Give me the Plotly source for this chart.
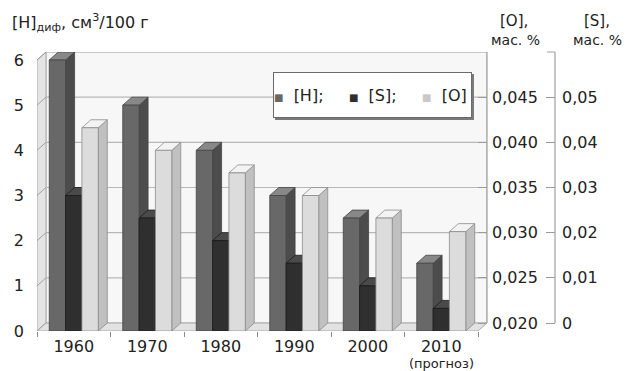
import plotly.graph_objects as go

# ---- data -------------------------------------------------------------
years = ["1960", "1970", "1980", "1990", "2000", "2010"]
forecast_note = "(прогноз)"
h_diff = [6.0, 5.0, 4.0, 3.0, 2.5, 1.5]                      # [H]диф, см3/100 г
s_mass = [0.030, 0.025, 0.020, 0.015, 0.010, 0.005]          # [S], мас. %
o_mass = [0.0425, 0.040, 0.0375, 0.035, 0.0325, 0.031]       # [O], мас. %

h_ticks = [0, 1, 2, 3, 4, 5, 6]
o_ticks = [0.020, 0.025, 0.030, 0.035, 0.040, 0.045]
o_tick_text = ["0,020", "0,025", "0,030", "0,035", "0,040", "0,045"]
s_ticks = [0.0, 0.01, 0.02, 0.03, 0.04, 0.05]
s_tick_text = ["0", "0,01", "0,02", "0,03", "0,04", "0,05"]

# O and S scales expressed on the [H] scale of the back wall
O_BASE, O_STEP = 0.020, 0.005
S_STEP = 0.01

# ---- page geometry (pixels) ---------------------------------------------
W, H = 631, 371
ML, MR, MT, MB = 37, 31, 52, 40
PAPER_W = W - ML - MR
PAPER_H = H - MT - MB
BOX_W = 450                     # front face + depth of the 3D box
DEPTH_X, DEPTH_Y = 9, 8         # oblique projection offset of the box depth
S_AXIS_PX = 555

x_lo, x_front_hi = -0.5, len(years) - 0.5
px_per_x = (BOX_W - DEPTH_X) / (x_front_hi - x_lo)
DX = DEPTH_X / px_per_x
y_top_val = max(h_ticks)
px_per_y = (PAPER_H - DEPTH_Y) / y_top_val
DY = DEPTH_Y / px_per_y
x_hi = x_front_hi + DX
y_hi = y_top_val + DY


def px_x(px):
    return (px - ML) / PAPER_W


def px_y(py):
    return (H - MB - py) / PAPER_H


FONT = "DejaVu Sans, Arial, sans-serif"
TXT = "#222222"

fig = go.Figure()


def poly(xs, ys, fill, edge, width=0.8):
    fig.add_trace(go.Scatter(
        x=list(xs) + [xs[0]], y=list(ys) + [ys[0]], mode="lines",
        fill="toself", fillcolor=fill, line=dict(color=edge, width=width),
        hoverinfo="skip", showlegend=False))


def seg(xs, ys, color, width=1.0):
    fig.add_trace(go.Scatter(
        x=xs, y=ys, mode="lines", line=dict(color=color, width=width),
        hoverinfo="skip", showlegend=False))


# ---- walls and floor ---------------------------------------------------
poly([x_lo + DX, x_hi, x_hi, x_lo + DX], [DY, DY, y_hi, y_hi], "#f7f7f7", "#b0b0b0")
poly([x_lo, x_lo + DX, x_lo + DX, x_lo], [0, DY, y_hi, y_top_val], "#e4e4e4", "#9a9a9a")
for v in h_ticks[1:]:
    seg([x_lo + DX, x_hi], [v + DY, v + DY], "#b8b8b8", 1.2)
for v in h_ticks:
    seg([x_lo - 0.03, x_lo + DX], [v - 0.03 * DY / DX, v + DY], "#9a9a9a", 0.9)
poly([x_lo, x_front_hi, x_hi, x_lo + DX], [0, 0, DY, DY], "#e2e2e2", "#999999")

# ---- pseudo-3D bars ------------------------------------------------------
series = [
    ("[H]", h_diff, lambda v: v,
     dict(front="#686868", side="#4c4c4c", top="#888888", edge="#444444")),
    ("[S]", s_mass, lambda v: v / S_STEP,
     dict(front="#2f2f2f", side="#202020", top="#4a4a4a", edge="#1a1a1a")),
    ("[O]", o_mass, lambda v: (v - O_BASE) / O_STEP,
     dict(front="#dcdcdc", side="#c0c0c0", top="#f3f3f3", edge="#8c8c8c")),
]
group_w = 2 / 3
bar_w = group_w / len(series)

for i in range(len(years)):
    for k, (name, vals, to_h, col) in enumerate(series):
        v = to_h(vals[i])
        x0 = i - group_w / 2 + k * bar_w
        x1 = x0 + bar_w
        poly([x1, x1 + DX, x1 + DX, x1], [0, DY, v + DY, v], col["side"], col["edge"])
        poly([x0, x1, x1 + DX, x0 + DX], [v, v, v + DY, v + DY], col["top"], col["edge"])
        poly([x0, x1, x1, x0], [0, 0, v, v], col["front"], col["edge"])

# invisible hover points carrying the real values on their own scales
for k, (name, vals, to_h, col) in enumerate(series):
    xs = [i - group_w / 2 + (k + 0.5) * bar_w for i in range(len(years))]
    axis = {"[H]": "y", "[S]": "y3", "[O]": "y2"}[name]
    fig.add_trace(go.Scatter(
        x=xs, y=vals, yaxis=axis, mode="markers", marker=dict(opacity=0),
        name=name, customdata=years, showlegend=False,
        hovertemplate=name + " %{customdata}: %{y}<extra></extra>"))

# ---- axes ---------------------------------------------------------------
dom_x1 = BOX_W / PAPER_W
s_pos = (S_AXIS_PX - ML) / PAPER_W
fig.update_layout(
    width=W, height=H,
    margin=dict(l=ML, r=MR, t=MT, b=MB, pad=0),
    paper_bgcolor="white", plot_bgcolor="rgba(0,0,0,0)",
    separators=",.",
    showlegend=False,
    hovermode="closest",
    font=dict(family=FONT, color=TXT, size=16),
    xaxis=dict(
        domain=[0, dom_x1], range=[x_lo, x_hi], showgrid=False, zeroline=False,
        showline=False, tickmode="array", tickvals=list(range(len(years))),
        ticktext=years, ticks="outside", ticklen=0, tickcolor="white",
        ticklabelstandoff=1, tickfont=dict(size=16, color=TXT),
        minor=dict(tickmode="array", tickvals=[i - 0.5 for i in range(len(years) + 1)],
                   ticks="outside", ticklen=5, tickcolor="#8a8a8a", tickwidth=1),
        fixedrange=True),
    yaxis=dict(
        range=[0, y_hi], showgrid=False, zeroline=False, showline=False,
        tickmode="array", tickvals=h_ticks, ticks="", ticklabelstandoff=12,
        tickfont=dict(size=16, color=TXT), fixedrange=True),
    yaxis2=dict(
        overlaying="y", anchor="free", position=dom_x1, side="right",
        range=[O_BASE - DY * O_STEP, O_BASE + y_top_val * O_STEP],
        tickmode="array", tickvals=o_ticks, ticktext=o_tick_text,
        ticks="inside", ticklen=9, tickcolor="#9a9a9a", tickwidth=1,
        showgrid=False, zeroline=False, showline=False, ticklabelstandoff=4,
        tickfont=dict(size=16, color=TXT), fixedrange=True),
    yaxis3=dict(
        overlaying="y", anchor="free", position=s_pos, side="right",
        range=[-DY * S_STEP, y_top_val * S_STEP],
        tickmode="array", tickvals=s_ticks, ticktext=s_tick_text,
        ticks="inside", ticklen=9, tickcolor="#9a9a9a", tickwidth=1,
        showgrid=False, zeroline=False, showline=False, ticklabelstandoff=6,
        tickfont=dict(size=16, color=TXT), fixedrange=True),
)

# right-hand axis lines, spanning the back wall
for xp in (dom_x1, s_pos):
    fig.add_shape(type="line", xref="paper", yref="paper", x0=xp, x1=xp,
                  y0=DEPTH_Y / PAPER_H, y1=1, line=dict(color="#a0a0a0", width=1.2))
fig.add_shape(type="line", xref="paper", yref="paper", x0=s_pos - 8 / PAPER_W, x1=s_pos,
              y0=1, y1=1, line=dict(color="#a0a0a0", width=1))

# ---- titles ---------------------------------------------------------------
ann = [
    ("[H]<sub>диф</sub>, см<sup>3</sup>/100 г", 10, 22, "left", 16),
    ("[O],", 514, 21, "center", 15),
    ("мас. %", 515, 40, "center", 14),
    ("[S],", 597, 21, "center", 15),
    ("мас. %", 597, 40, "center", 14),
]
for text, x, y, xa, fs in ann:
    fig.add_annotation(text=text, xref="paper", yref="paper", x=px_x(x), y=px_y(y),
                       xanchor=xa, yanchor="middle", showarrow=False,
                       font=dict(size=fs, color=TXT))

fig.add_annotation(text=forecast_note, xref="x", yref="paper", x=len(years) - 1,
                   y=px_y(363), xanchor="center", yanchor="middle", showarrow=False,
                   font=dict(size=13, color=TXT))

# ---- legend box -----------------------------------------------------------
nb = "\u00a0"
legend_text = (
    f'<span style="color:{series[0][3]["front"]};font-size:10px">■</span>{nb*2}[H];{nb*5}'
    f'<span style="color:{series[1][3]["front"]};font-size:10px">■</span>{nb*2}[S];{nb*5}'
    f'<span style="color:#c8c8c8;font-size:10px">■</span>{nb*2}[O]'
)
lx0, ly0, lx1, ly1 = 273, 72, 472, 118
fig.add_shape(type="rect", xref="paper", yref="paper",
              x0=px_x(lx0 + 2), x1=px_x(lx1 + 2), y0=px_y(ly1 + 2), y1=px_y(ly0 + 2),
              fillcolor="#7a7a7a", line=dict(width=0), layer="above")
fig.add_annotation(text=legend_text, xref="paper", yref="paper",
                   x=px_x(lx0), y=px_y(ly0), xanchor="left", yanchor="top",
                   width=lx1 - lx0 - 2, height=ly1 - ly0 - 2, borderpad=0,
                   align="left", valign="middle", showarrow=False,
                   bgcolor="white", bordercolor="#6a6a6a", borderwidth=1,
                   font=dict(size=16, color=TXT))

fig.write_html("out.html")
